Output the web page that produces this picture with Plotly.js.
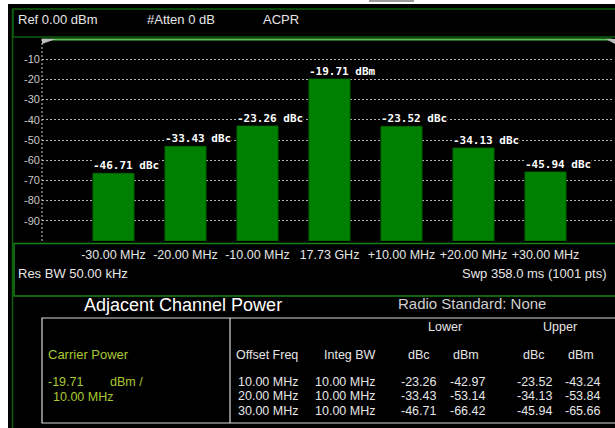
<!DOCTYPE html>
<html>
<head>
<meta charset="utf-8">
<script src="https://cdn.plot.ly/plotly-3.0.1.min.js"></script>
<style>html,body{margin:0;padding:0;background:#000;}#chart{width:615px;height:428px;}</style>
</head>
<body>
<div id="chart"></div>
<script>
// ---- data ----
const categories = ['-30.00 MHz', '-20.00 MHz', '-10.00 MHz', '17.73 GHz', '+10.00 MHz', '+20.00 MHz', '+30.00 MHz'];
const carrierPower = -19.71;            // dBm
const carrierBW = '10.00 MHz';
const offsetFreq = ['10.00 MHz', '20.00 MHz', '30.00 MHz'];
const integBW = ['10.00 MHz', '10.00 MHz', '10.00 MHz'];
const lowerDbc = [-23.26, -33.43, -46.71];
const lowerDbm = [-42.97, -53.14, -66.42];
const upperDbc = [-23.52, -34.13, -45.94];
const upperDbm = [-43.24, -53.84, -65.66];
const yTickVals = [-10, -20, -30, -40, -50, -60, -70, -80, -90];
const yFloor = -100;

// bar values (dBm) and labels, lower offsets outermost first
const barValues = lowerDbm.slice().reverse().concat([carrierPower], upperDbm);
const barLabels = lowerDbc.slice().reverse().map(v => v.toFixed(2) + ' dBc')
  .concat([carrierPower.toFixed(2) + ' dBm'], upperDbc.map(v => v.toFixed(2) + ' dBc'));

// ---- layout helpers (pixel -> paper) ----
const L = 42, R = 2, T = 39, B = 187, W = 615, H = 428;
const PW = W - L - R, PH = H - T - B;
const fx = p => (p - L) / PW;
const fy = p => (H - B - p) / PH;

const FONT = 'Liberation Sans, Arial, sans-serif';
const TXT = '#e6e6e6';
const YG = '#a9c832';

const shapes = [];
function rect(x0, y0, x1, y1, line, fill, w) {
  shapes.push({type: 'rect', xref: 'paper', yref: 'paper', x0: fx(x0), x1: fx(x1), y0: fy(y1), y1: fy(y0),
    line: {color: line || 'rgba(0,0,0,0)', width: w || 1}, fillcolor: fill || 'rgba(0,0,0,0)', layer: 'above'});
}
function line(x0, y0, x1, y1, color, w, dash) {
  shapes.push({type: 'line', xref: 'paper', yref: 'paper', x0: fx(x0), x1: fx(x1), y0: fy(y0), y1: fy(y1),
    line: {color: color, width: w || 1, dash: dash || 'solid'}, layer: 'above'});
}
function tri(pts, color) {
  const d = pts.map((p, i) => (i ? 'L' : 'M') + fx(p[0]) + ',' + fy(p[1])).join(' ') + ' Z';
  shapes.push({type: 'path', xref: 'paper', yref: 'paper', path: d, fillcolor: color, line: {width: 0}, layer: 'above'});
}

// frame
rect(0, 0, 615, 4, null, '#ffffff');
rect(0, 0, 8, 428, null, '#ffffff');
rect(369, 0, 414, 2, null, '#9a9a9a');
line(12.5, 9, 12.5, 428, '#0d5e0d', 1.5);
rect(13, 9, 630, 37, '#0d600d', null, 1.5);
line(42, 39.5, 612, 39.5, '#55c455', 2);
tri([[42, 39], [56, 39], [42, 44]], '#bdbdbd');
tri([[606, 39], [615, 39], [615, 44]], '#bdbdbd');
line(42, 39, 42, 243, '#cfcfcf', 1, '2px,2px');
rect(14, 243.5, 630, 296, '#148414', null, 1.5);
// table
rect(42, 318, 630, 423, '#d8d8d8', null, 1.2);
line(230, 318, 230, 423, '#d8d8d8', 1.2);

const ann = [];
function txt(text, x, y, anchor, size, color, extra) {
  ann.push(Object.assign({xref: 'paper', yref: 'paper', x: fx(x), y: fy(y), text: text, showarrow: false,
    xanchor: anchor || 'left', yanchor: 'middle', font: {family: FONT, size: size || 12.5, color: color || TXT}}, extra || {}));
}

// header
txt('Ref 0.00 dBm', 16, 20, 'left', 13);
txt('#Atten 0 dB', 145, 20, 'left', 13);
txt('ACPR', 261, 20, 'left', 13);
// info line
txt('Res BW 50.00 kHz', 16, 273, 'left', 13);
txt('Swp 358.0 ms (1001 pts)', 609, 273, 'right', 13);
// titles
txt('Adjacent Channel Power', 82, 305, 'left', 18, '#ffffff');
txt('Radio Standard: None', 396, 303, 'left', 15, '#cfcfcf');
// table header
txt('Lower', 444.5, 327, 'center', 12.5);
txt('Upper', 559.5, 327, 'center', 12.5);
txt('Offset Freq', 267, 355, 'center', 12.5);
txt('Integ BW', 349.5, 355, 'center', 12.5);
txt('dBc', 419, 355, 'center', 12.5);
txt('dBm', 466, 355, 'center', 12.5);
txt('dBc', 533.5, 355, 'center', 12.5);
txt('dBm', 581, 355, 'center', 12.5);
// carrier
txt('Carrier Power', 46, 354.5, 'left', 13, YG);
txt(carrierPower.toFixed(2), 46, 381.5, 'left', 12.5, YG);
txt('dBm /', 108, 381.5, 'left', 12.5, YG);
txt(carrierBW, 51, 396.5, 'left', 12.5, YG);
// rows
const rowY = [381.5, 396, 410.5];
for (let i = 0; i < offsetFreq.length; i++) {
  txt(offsetFreq[i], 300, rowY[i], 'right', 12.5);
  txt(integBW[i], 377, rowY[i], 'right', 12.5);
  txt(lowerDbc[i].toFixed(2), 437.5, rowY[i], 'right', 12.5);
  txt(lowerDbm[i].toFixed(2), 486.5, rowY[i], 'right', 12.5);
  txt(upperDbc[i].toFixed(2), 553.5, rowY[i], 'right', 12.5);
  txt(upperDbm[i].toFixed(2), 602, rowY[i], 'right', 12.5);
}
// bar labels
categories.forEach((c, i) => {
  ann.push({xref: 'x', yref: 'y', x: c, y: barValues[i], text: '<b>' + barLabels[i] + '</b>', showarrow: false,
    xanchor: 'left', yanchor: 'bottom', xshift: -22, yshift: 0, bgcolor: '#000000', borderpad: 0,
    font: {family: 'DejaVu Sans Mono, monospace', size: 11, color: '#ffffff'}});
});

const xr0 = (L - 113.5) / 72, xr1 = (W - R - 113.5) / 72;

const data = [{
  type: 'bar', x: categories, base: yFloor, y: barValues.map(v => v - yFloor),
  marker: {color: '#008000', line: {color: '#006400', width: 1}},
  hoverinfo: 'skip'
}];

const layout = {
  width: W, height: H,
  margin: {l: L, r: R, t: T, b: B, pad: 0},
  paper_bgcolor: '#000000', plot_bgcolor: '#000000',
  showlegend: false,
  bargap: 0.43,
  xaxis: {type: 'category', range: [xr0, xr1], showgrid: false, zeroline: false, showline: false,
    ticks: '', ticklabelstandoff: 4, tickfont: {family: FONT, size: 12.5, color: TXT}, fixedrange: true},
  yaxis: {range: [yFloor, 0], tickvals: yTickVals, ticktext: yTickVals.map(String), showgrid: true,
    gridcolor: '#b5b5b5', griddash: '2px,2px', gridwidth: 1, zeroline: false, showline: false, ticks: '',
    ticklabelstandoff: 1, tickfont: {family: FONT, size: 11, color: '#c8c8c8'}, fixedrange: true},
  shapes: shapes,
  annotations: ann
};

Plotly.newPlot('chart', data, layout, {staticPlot: true, displayModeBar: false});
</script>
</body>
</html>
